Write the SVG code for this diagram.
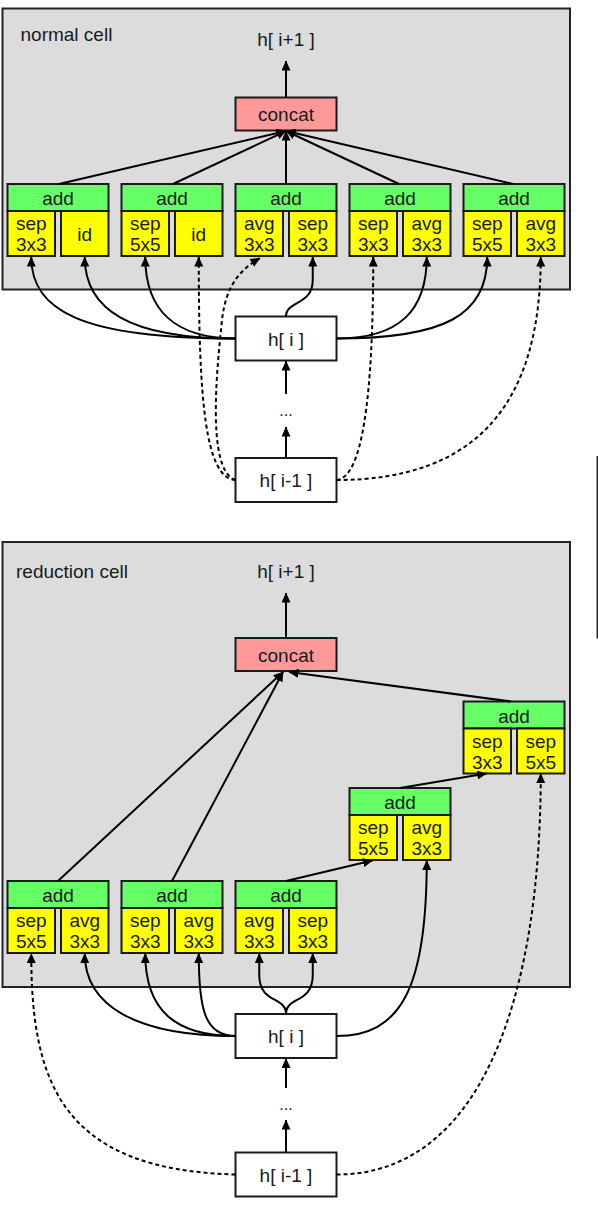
<svg xmlns="http://www.w3.org/2000/svg" width="598" height="1221" viewBox="0 0 598 1221">
<style>
.cell{fill:#dcdcdc;stroke:#222;stroke-width:2}
.add{fill:#66ff66;stroke:#1a1a1a;stroke-width:2}
.op{fill:#ffff00;stroke:#1a1a1a;stroke-width:2}
.cc{fill:#ff9999;stroke:#1a1a1a;stroke-width:2}
.h{fill:#ffffff;stroke:#1a1a1a;stroke-width:2}
text{font-family:"Liberation Sans",Arial,sans-serif;font-size:19px;fill:#1a1a1a}
.m{text-anchor:middle}
.s{font-size:19px}
.e{fill:none;stroke:#000;stroke-width:2;marker-end:url(#ah)}
.d{stroke-dasharray:4 3}
</style>
<defs>
<marker id="ah" markerUnits="userSpaceOnUse" markerWidth="10" markerHeight="9" viewBox="0 0 10 9" refX="9.5" refY="4.5" orient="auto">
<path d="M0,0 L10,4.5 L0,9 z" fill="#000"/>
</marker>
</defs>

<!-- clusters -->
<g id="normal-cell">
<rect class="cell" x="2.5" y="8.5" width="567.5" height="281"/>
<text x="20.5" y="40.5">normal cell</text>
</g>
<g id="reduction-cell">
<rect class="cell" x="2.5" y="542" width="567.5" height="445"/>
<text x="16" y="578">reduction cell</text>
</g>
<line id="edge-line" x1="597.3" y1="456" x2="597.3" y2="638.5" stroke="#222" stroke-width="1.5"/>

<!-- normal cell nodes -->
<g id="n-out"><text class="m" x="286" y="46">h[ i+1 ]</text></g>
<g id="n-concat"><rect class="cc" x="235.5" y="97.5" width="101" height="33"/><text class="m" x="286" y="121">concat</text></g>
<g id="n-add1" transform="translate(7.5,184)">
<rect class="add" x="0" y="0" width="101" height="27"/><text class="m" x="50.5" y="21">add</text>
<rect class="op" x="0" y="27" width="47.5" height="45"/><text class="m s" x="23.75" y="46"><tspan x="23.75">sep</tspan><tspan x="23.75" y="67">3x3</tspan></text>
<rect class="op" x="53.5" y="27" width="47.5" height="45"/><text class="m s" x="77.25" y="56.5">id</text>
</g>
<g id="n-add2" transform="translate(121.5,184)">
<rect class="add" x="0" y="0" width="101" height="27"/><text class="m" x="50.5" y="21">add</text>
<rect class="op" x="0" y="27" width="47.5" height="45"/><text class="m s" x="23.75" y="46"><tspan x="23.75">sep</tspan><tspan x="23.75" y="67">5x5</tspan></text>
<rect class="op" x="53.5" y="27" width="47.5" height="45"/><text class="m s" x="77.25" y="56.5">id</text>
</g>
<g id="n-add3" transform="translate(235.5,184)">
<rect class="add" x="0" y="0" width="101" height="27"/><text class="m" x="50.5" y="21">add</text>
<rect class="op" x="0" y="27" width="47.5" height="45"/><text class="m s" x="23.75" y="46"><tspan x="23.75">avg</tspan><tspan x="23.75" y="67">3x3</tspan></text>
<rect class="op" x="53.5" y="27" width="47.5" height="45"/><text class="m s" x="77.25" y="46"><tspan x="77.25">sep</tspan><tspan x="77.25" y="67">3x3</tspan></text>
</g>
<g id="n-add4" transform="translate(349.5,184)">
<rect class="add" x="0" y="0" width="101" height="27"/><text class="m" x="50.5" y="21">add</text>
<rect class="op" x="0" y="27" width="47.5" height="45"/><text class="m s" x="23.75" y="46"><tspan x="23.75">sep</tspan><tspan x="23.75" y="67">3x3</tspan></text>
<rect class="op" x="53.5" y="27" width="47.5" height="45"/><text class="m s" x="77.25" y="46"><tspan x="77.25">avg</tspan><tspan x="77.25" y="67">3x3</tspan></text>
</g>
<g id="n-add5" transform="translate(463.5,184)">
<rect class="add" x="0" y="0" width="101" height="27"/><text class="m" x="50.5" y="21">add</text>
<rect class="op" x="0" y="27" width="47.5" height="45"/><text class="m s" x="23.75" y="46"><tspan x="23.75">sep</tspan><tspan x="23.75" y="67">5x5</tspan></text>
<rect class="op" x="53.5" y="27" width="47.5" height="45"/><text class="m s" x="77.25" y="46"><tspan x="77.25">avg</tspan><tspan x="77.25" y="67">3x3</tspan></text>
</g>
<g id="n-hi"><rect class="h" x="235.5" y="316.5" width="101" height="44"/><text class="m" x="286" y="345.5">h[ i ]</text></g>
<g id="n-dots"><text class="m" x="286" y="415.5" style="font-size:16px">...</text></g>
<g id="n-him1"><rect class="h" x="235.5" y="458" width="101" height="44"/><text class="m" x="286" y="487">h[ i-1 ]</text></g>

<!-- reduction cell nodes -->
<g id="r-out"><text class="m" x="286" y="578">h[ i+1 ]</text></g>
<g id="r-concat"><rect class="cc" x="235.5" y="638" width="101" height="33"/><text class="m" x="286" y="661.5">concat</text></g>
<g id="r-add1" transform="translate(7.5,881)">
<rect class="add" x="0" y="0" width="101" height="27"/><text class="m" x="50.5" y="21">add</text>
<rect class="op" x="0" y="27" width="47.5" height="45"/><text class="m s" x="23.75" y="46"><tspan x="23.75">sep</tspan><tspan x="23.75" y="67">5x5</tspan></text>
<rect class="op" x="53.5" y="27" width="47.5" height="45"/><text class="m s" x="77.25" y="46"><tspan x="77.25">avg</tspan><tspan x="77.25" y="67">3x3</tspan></text>
</g>
<g id="r-add2" transform="translate(121.5,881)">
<rect class="add" x="0" y="0" width="101" height="27"/><text class="m" x="50.5" y="21">add</text>
<rect class="op" x="0" y="27" width="47.5" height="45"/><text class="m s" x="23.75" y="46"><tspan x="23.75">sep</tspan><tspan x="23.75" y="67">3x3</tspan></text>
<rect class="op" x="53.5" y="27" width="47.5" height="45"/><text class="m s" x="77.25" y="46"><tspan x="77.25">avg</tspan><tspan x="77.25" y="67">3x3</tspan></text>
</g>
<g id="r-add3" transform="translate(235.5,881)">
<rect class="add" x="0" y="0" width="101" height="27"/><text class="m" x="50.5" y="21">add</text>
<rect class="op" x="0" y="27" width="47.5" height="45"/><text class="m s" x="23.75" y="46"><tspan x="23.75">avg</tspan><tspan x="23.75" y="67">3x3</tspan></text>
<rect class="op" x="53.5" y="27" width="47.5" height="45"/><text class="m s" x="77.25" y="46"><tspan x="77.25">sep</tspan><tspan x="77.25" y="67">3x3</tspan></text>
</g>
<g id="r-add4" transform="translate(349.5,788)">
<rect class="add" x="0" y="0" width="101" height="27"/><text class="m" x="50.5" y="21">add</text>
<rect class="op" x="0" y="27" width="47.5" height="45"/><text class="m s" x="23.75" y="46"><tspan x="23.75">sep</tspan><tspan x="23.75" y="67">5x5</tspan></text>
<rect class="op" x="53.5" y="27" width="47.5" height="45"/><text class="m s" x="77.25" y="46"><tspan x="77.25">avg</tspan><tspan x="77.25" y="67">3x3</tspan></text>
</g>
<g id="r-add5" transform="translate(463.5,701.5)">
<rect class="add" x="0" y="0" width="101" height="27"/><text class="m" x="50.5" y="21">add</text>
<rect class="op" x="0" y="27" width="47.5" height="45"/><text class="m s" x="23.75" y="46"><tspan x="23.75">sep</tspan><tspan x="23.75" y="67">3x3</tspan></text>
<rect class="op" x="53.5" y="27" width="47.5" height="45"/><text class="m s" x="77.25" y="46"><tspan x="77.25">sep</tspan><tspan x="77.25" y="67">5x5</tspan></text>
</g>
<g id="r-hi"><rect class="h" x="235.5" y="1014" width="101" height="44"/><text class="m" x="286" y="1043">h[ i ]</text></g>
<g id="r-dots"><text class="m" x="286" y="1110" style="font-size:16px">...</text></g>
<g id="r-him1"><rect class="h" x="235.5" y="1152.5" width="101" height="44"/><text class="m" x="286" y="1181.5">h[ i-1 ]</text></g>

<!-- connectors -->
<g id="connectors">
<!-- normal cell -->
<path class="e" d="M286,97.5 L286,61"/>
<path class="e" d="M59,184 L286,131"/>
<path class="e" d="M173,184 L286,131"/>
<path class="e" d="M286,184 L286,131"/>
<path class="e" d="M399,184 L286,131"/>
<path class="e" d="M513,184 L286,131"/>
<path class="e" d="M235.5,338.5 C80,338.5 31.25,310 31.25,257"/>
<path class="e" d="M235.5,338.5 C130,338.5 84.75,310 84.75,257"/>
<path class="e" d="M235.5,338.5 C175,338.5 145.25,310 145.25,257"/>
<path class="e" d="M286,316.5 C286,300 312.75,306 312.75,280 L312.75,257"/>
<path class="e" d="M336.5,338.5 C400,338.5 426.75,310 426.75,257"/>
<path class="e" d="M336.5,338.5 C445,338.5 487.25,315 487.25,257"/>
<path class="e d" d="M235.5,480 C205,478 198.75,400 198.75,257"/>
<path class="e d" d="M235.5,480 C205,470 218,360 222,320 C226,285 240,270 260,258"/>
<path class="e d" d="M336.5,480 C362,478 373.25,400 373.25,257"/>
<path class="e d" d="M336.5,480 C480,480 540.75,400 540.75,257"/>
<path class="e" d="M286,458 L286,427"/>
<path class="e" d="M286,394 L286,361"/>
<!-- reduction cell -->
<path class="e" d="M286,638 L286,593"/>
<path class="e" d="M58,881 L283,672"/>
<path class="e" d="M172,881 L283,672"/>
<path class="e" d="M511,701.5 L289,672"/>
<path class="e" d="M286,881 L372.5,860.5"/>
<path class="e" d="M400,788 L486.5,773.5"/>
<path class="e d" d="M235.5,1174.5 C60,1170 31.25,1080 31.25,953.5"/>
<path class="e" d="M235.5,1036 C135,1036 84.75,1005 84.75,953.5"/>
<path class="e" d="M235.5,1036 C175,1036 145.25,1010 145.25,953.5"/>
<path class="e" d="M235.5,1036 C205,1036 198.75,1010 198.75,953.5"/>
<path class="e" d="M286,1014 C286,996 259.25,1004 259.25,975 L259.25,953.5"/>
<path class="e" d="M286,1014 C286,996 312.75,1004 312.75,975 L312.75,953.5"/>
<path class="e" d="M336.5,1036 C400,1036 426.75,990 426.75,860.5"/>
<path class="e d" d="M336.5,1174.5 C480,1174.5 540.75,1000 540.75,773.5"/>
<path class="e" d="M286,1152.5 L286,1120"/>
<path class="e" d="M286,1088 L286,1058.5"/>
</g>
</svg>
